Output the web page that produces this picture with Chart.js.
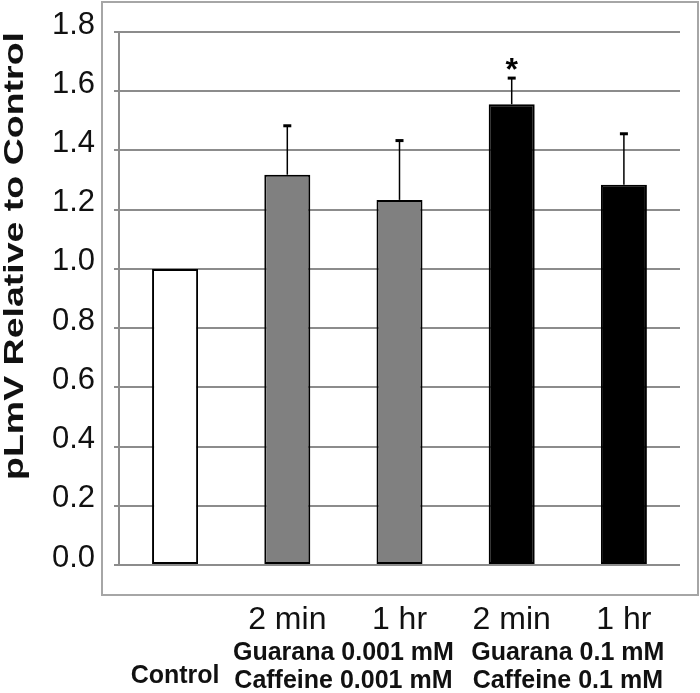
<!DOCTYPE html>
<html>
<head>
<meta charset="utf-8">
<script src="https://cdn.jsdelivr.net/npm/chart.js@4"></script>
<style>
html, body { margin: 0; padding: 0; background: #fff; }
#wrap { width: 700px; height: 693px; }
</style>
</head>
<body>
<div id="wrap"><canvas id="chart"></canvas></div>
<script>
// values
const timeLabels = ['', '2 min', '1 hr', '2 min', '1 hr'];
const values = [1.0, 1.318, 1.233, 1.556, 1.284];
const errors = [0, 0.167, 0.202, 0.09, 0.174];
const marks = ['', '', '', '*', ''];
const fills = ['#ffffff', '#808080', '#808080', '#000000', '#000000'];
const groupLabels = [['Control'], ['Guarana 0.001 mM', 'Caffeine 0.001 mM'], ['Guarana 0.1 mM', 'Caffeine 0.1 mM']];
const groupBars = [[0, 0], [1, 2], [3, 4]];
const yTickValues = [0, 0.2, 0.4, 0.6, 0.8, 1.0, 1.2, 1.4, 1.6, 1.8];
const yTitle = 'pLmV Relative to Control';

const gridGray = '#8c8c8c';
const textColor = '#111';

// gray frame round the plot
const frame = {
    id: 'frame',
    beforeDraw(chart) {
        const ctx = chart.ctx;
        ctx.save();
        ctx.strokeStyle = '#a6a6a6';
        ctx.lineWidth = 2;
        ctx.strokeRect(102, 2, 596, 593);
        ctx.restore();
    }
};

// upward error bars + significance mark
const errorBars = {
    id: 'errorBars',
    afterDatasetsDraw(chart) {
        const ctx = chart.ctx;
        const y = chart.scales.y;
        const meta = chart.getDatasetMeta(0);
        ctx.save();
        ctx.strokeStyle = '#000';
        ctx.fillStyle = '#000';
        values.forEach((v, i) => {
            const x = meta.data[i].x;
            const top = y.getPixelForValue(v + errors[i]);
            if (errors[i] > 0) {
                ctx.lineWidth = 1.5;
                ctx.beginPath();
                ctx.moveTo(x, y.getPixelForValue(v));
                ctx.lineTo(x, top);
                ctx.stroke();
                ctx.fillRect(x - 4, top - 1, 8, 3);
            }
            if (marks[i]) {
                ctx.font = 'bold 32px "Liberation Sans", Arial, sans-serif';
                ctx.textAlign = 'center';
                ctx.textBaseline = 'middle';
                ctx.fillText(marks[i], x, top - 6);
            }
        });
        ctx.restore();
    }
};

// group names under the time labels, and the stretched y title
const labels = {
    id: 'labels',
    afterDraw(chart) {
        const ctx = chart.ctx;
        const x = chart.scales.x;
        ctx.save();
        ctx.fillStyle = textColor;
        ctx.textAlign = 'center';
        ctx.textBaseline = 'alphabetic';
        ctx.font = 'bold 25px "Liberation Sans", Arial, sans-serif';
        groupLabels.forEach((lines, g) => {
            const cx = (x.getPixelForValue(groupBars[g][0]) + x.getPixelForValue(groupBars[g][1])) / 2;
            if (lines.length === 1) {
                ctx.fillText(lines[0], cx, 683);
            } else {
                ctx.fillText(lines[0], cx, 660);
                ctx.fillText(lines[1], cx, 688);
            }
        });

        ctx.font = 'bold 28px "Liberation Sans", Arial, sans-serif';
        const w = ctx.measureText(yTitle).width;
        ctx.translate(23, 256);
        ctx.rotate(-Math.PI / 2);
        ctx.scale(448 / w, 1);
        ctx.fillText(yTitle, 0, 0);
        ctx.restore();
    }
};

new Chart(document.getElementById('chart'), {
    type: 'bar',
    data: {
        labels: timeLabels,
        datasets: [{
            data: values,
            backgroundColor: fills,
            borderColor: '#000',
            borderWidth: 2,
            borderSkipped: false,
            barPercentage: 0.41,
            categoryPercentage: 1
        }]
    },
    options: {
        responsive: true,
        maintainAspectRatio: false,
        animation: false,
        layout: { padding: { top: 32, right: 20, left: 0, bottom: 0 } },
        plugins: {
            legend: { display: false },
            tooltip: { enabled: false }
        },
        scales: {
            x: {
                grid: { display: false },
                border: { display: false },
                ticks: {
                    color: textColor,
                    padding: 28,
                    font: { family: '"Liberation Sans", Arial, sans-serif', size: 32 }
                },
                afterFit: s => { s.height = 128; s.paddingLeft = 0; s.paddingRight = 0; }
            },
            y: {
                min: 0,
                max: 1.8,
                afterBuildTicks: s => { s.ticks = yTickValues.map(v => ({ value: v })); },
                grid: {
                    color: gridGray,
                    lineWidth: 2,
                    drawTicks: true,
                    tickLength: 5,
                    tickColor: gridGray
                },
                border: { display: true, color: gridGray, width: 2 },
                ticks: {
                    color: textColor,
                    padding: 19,
                    labelOffset: -7,
                    font: { family: '"Liberation Sans", Arial, sans-serif', size: 31 },
                    callback: v => Number(v).toFixed(1)
                },
                afterFit: s => { s.width = 119; s.paddingTop = 0; s.paddingBottom = 0; }
            }
        }
    },
    plugins: [frame, errorBars, labels]
});
</script>
</body>
</html>
